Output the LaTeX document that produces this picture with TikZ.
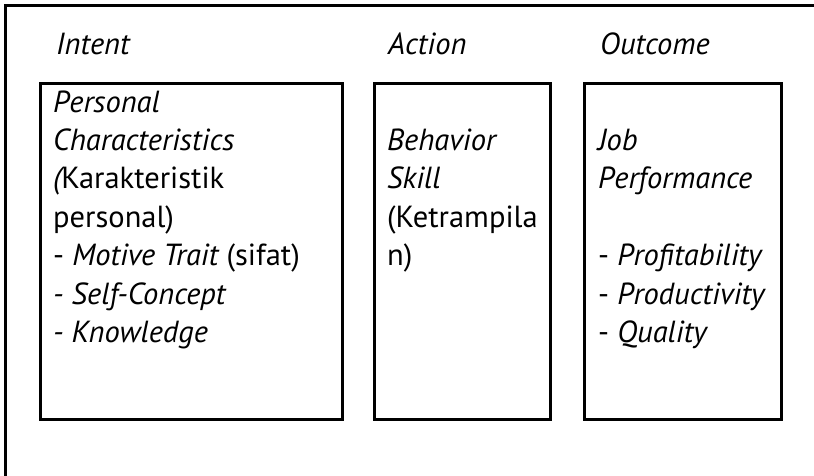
\documentclass[tikz,border=0pt]{standalone}
\usepackage{fontspec}
\setmainfont{PT Sans}
\begin{document}
\begin{tikzpicture}[x=1pt,y=-1pt,
  frame/.style={line width=3pt},
  box/.style={draw, line width=2.6pt, inner sep=0pt, anchor=north west},
  txt/.style={anchor=base west, inner sep=0pt, font=\fontsize{30.5}{38}\selectfont},
  head/.style={txt, font=\fontsize{30.5}{38}\selectfont\itshape}]
\useasboundingbox (0,0) rectangle (814,475);

% open outer frame: left and top edges only
\coordinate (fb) at (5,477);
\coordinate (ft) at (5,5);
\coordinate (fr) at (816,5);
\draw[frame] (fb) -- (ft) -- (fr);

% column headings
\node[head] (hIntent)  at (56,54)  {Intent};
\node[head] (hAction)  at (388,54) {Action};
\node[head] (hOutcome) at (600,54) {Outcome};

% the three boxes
\node[box, minimum width=302pt, minimum height=336pt] (bIntent)  at (39,82)  {};
\node[box, minimum width=176pt, minimum height=336pt] (bAction)  at (373,82) {};
\node[box, minimum width=197pt, minimum height=336pt] (bOutcome) at (583,82) {};

% intent box text (line pitch 38.4)
\node[txt] (i1) at (53,112.0) {\itshape Personal};
\node[txt] (i2) at (53,150.4) {\itshape Characteristics};
\node[txt] (i3) at (53,188.8) {{\itshape(}Karakteristik};
\node[txt] (i4) at (53,227.2) {personal)};
\node[txt] (i5) at (53,265.6) {- {\itshape Motive Trait} (sifat)};
\node[txt] (i6) at (53,304.0) {\itshape - Self-Concept};
\node[txt] (i7) at (53,342.4) {\itshape - Knowledge};

% action box text
\node[txt] (a1) at (387,150.4) {\itshape Behavior};
\node[txt] (a2) at (387,188.8) {\itshape Skill};
\node[txt] (a3) at (387,227.2) {(Ketrampila};
\node[txt] (a4) at (387,265.6) {n)};

% outcome box text
\node[txt] (o1) at (598,150.4) {\itshape Job};
\node[txt] (o2) at (598,188.8) {\itshape Performance};
\node[txt] (o3) at (598,265.6) {- {\itshape Profitability}};
\node[txt] (o4) at (598,304.0) {- {\itshape Productivity}};
\node[txt] (o5) at (598,342.4) {- {\itshape Quality}};
\end{tikzpicture}
\end{document}
